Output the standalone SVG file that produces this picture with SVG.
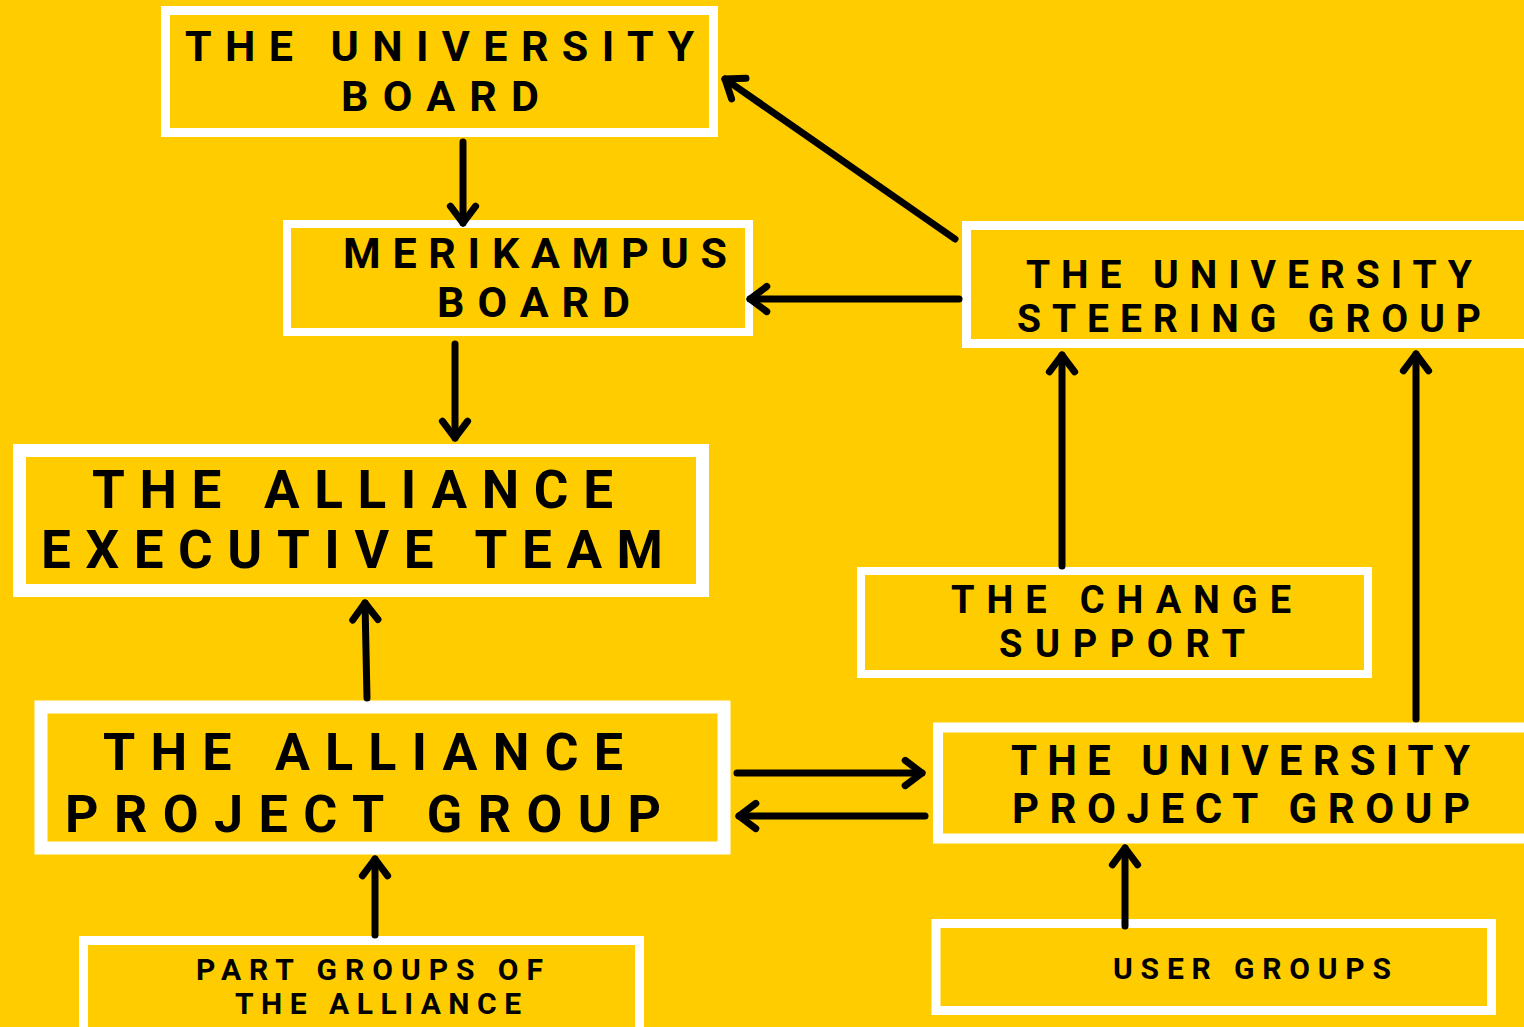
<svg xmlns="http://www.w3.org/2000/svg" width="1524" height="1027" viewBox="0 0 1524 1027">
<style>
.box{fill:#FFCC00;stroke:#FFFFFF}
.t{font-family:Roboto,"Liberation Sans",sans-serif;font-weight:bold;fill:#000}
.c{stroke:#000;stroke-width:7;stroke-linecap:round;fill:none}
</style>
<defs>
<marker id="ah" viewBox="-4 -4 8 8" markerWidth="8" markerHeight="8" refX="0" refY="0" orient="auto" markerUnits="strokeWidth" overflow="visible">
<path d="M-2.4,-1.8 L0,0 L-2.4,1.8" fill="none" stroke="#000" stroke-width="1" stroke-linecap="round" stroke-linejoin="round"/>
</marker>
</defs>
<rect width="1524" height="1027" fill="#FFCC00"/>
<g id="university-board">
<rect class="box" x="165.5" y="10.5" width="548" height="122" stroke-width="9"/>
<text class="t" font-size="43" x="185" y="61" textLength="509" lengthAdjust="spacing">THE UNIVERSITY</text>
<text class="t" font-size="43" x="341" y="111" textLength="198" lengthAdjust="spacing">BOARD</text>
</g>
<g id="merikampus-board">
<rect class="box" x="287" y="224" width="462" height="108" stroke-width="8"/>
<text class="t" font-size="43" x="343" y="268" textLength="384" lengthAdjust="spacing">MERIKAMPUS</text>
<text class="t" font-size="43" x="437" y="317" textLength="193" lengthAdjust="spacing">BOARD</text>
</g>
<g id="university-steering-group">
<rect class="box" x="966.5" y="225.5" width="600" height="118" stroke-width="9"/>
<text class="t" font-size="39" x="1026" y="288" textLength="446" lengthAdjust="spacing">THE UNIVERSITY</text>
<text class="t" font-size="39" x="1017" y="332" textLength="464" lengthAdjust="spacing">STEERING GROUP</text>
</g>
<g id="alliance-executive-team">
<rect class="box" x="19.5" y="450.5" width="683" height="140" stroke-width="13"/>
<text class="t" font-size="53" x="92" y="508" textLength="521" lengthAdjust="spacing">THE ALLIANCE</text>
<text class="t" font-size="53" x="41" y="568" textLength="622" lengthAdjust="spacing">EXECUTIVE TEAM</text>
</g>
<g id="change-support">
<rect class="box" x="861" y="571" width="507" height="103" stroke-width="8"/>
<text class="t" font-size="38" x="951" y="613" textLength="340" lengthAdjust="spacing">THE CHANGE</text>
<text class="t" font-size="38" x="999" y="657" textLength="246" lengthAdjust="spacing">SUPPORT</text>
</g>
<g id="alliance-project-group">
<rect class="box" x="41" y="707" width="683" height="141" stroke-width="13"/>
<text class="t" font-size="52" x="103" y="770" textLength="520" lengthAdjust="spacing">THE ALLIANCE</text>
<text class="t" font-size="52" x="65" y="832" textLength="596" lengthAdjust="spacing">PROJECT GROUP</text>
</g>
<g id="university-project-group">
<rect class="box" x="938" y="727.5" width="620" height="111" stroke-width="10"/>
<text class="t" font-size="42" x="1011" y="775" textLength="459" lengthAdjust="spacing">THE UNIVERSITY</text>
<text class="t" font-size="42" x="1012" y="823" textLength="458" lengthAdjust="spacing">PROJECT GROUP</text>
</g>
<g id="part-groups">
<rect class="box" x="83.5" y="940.5" width="556" height="120" stroke-width="9"/>
<text class="t" font-size="30" x="196" y="980" textLength="347" lengthAdjust="spacing">PART GROUPS OF</text>
<text class="t" font-size="30" x="235" y="1014" textLength="286" lengthAdjust="spacing">THE ALLIANCE</text>
</g>
<g id="user-groups">
<rect class="box" x="936" y="923.5" width="555.5" height="87" stroke-width="9"/>
<text class="t" font-size="30" x="1113" y="979" textLength="278" lengthAdjust="spacing">USER GROUPS</text>
</g>
<g id="connectors">
<line class="c" x1="463" y1="142" x2="463" y2="223" marker-end="url(#ah)"/>
<line class="c" x1="455" y1="344" x2="455" y2="438" marker-end="url(#ah)"/>
<line class="c" x1="955" y1="239" x2="725" y2="79" marker-end="url(#ah)"/>
<line class="c" x1="959" y1="299" x2="750" y2="299" marker-end="url(#ah)"/>
<line class="c" x1="1062" y1="566" x2="1062" y2="355" marker-end="url(#ah)"/>
<line class="c" x1="1416" y1="719" x2="1416" y2="354" marker-end="url(#ah)"/>
<line class="c" x1="367" y1="698" x2="365" y2="603" marker-end="url(#ah)"/>
<line class="c" x1="737" y1="773" x2="922" y2="773" marker-end="url(#ah)"/>
<line class="c" x1="925" y1="816" x2="739" y2="816" marker-end="url(#ah)"/>
<line class="c" x1="375" y1="935" x2="375" y2="859" marker-end="url(#ah)"/>
<line class="c" x1="1125" y1="926" x2="1125" y2="848" marker-end="url(#ah)"/>
</g>
</svg>
